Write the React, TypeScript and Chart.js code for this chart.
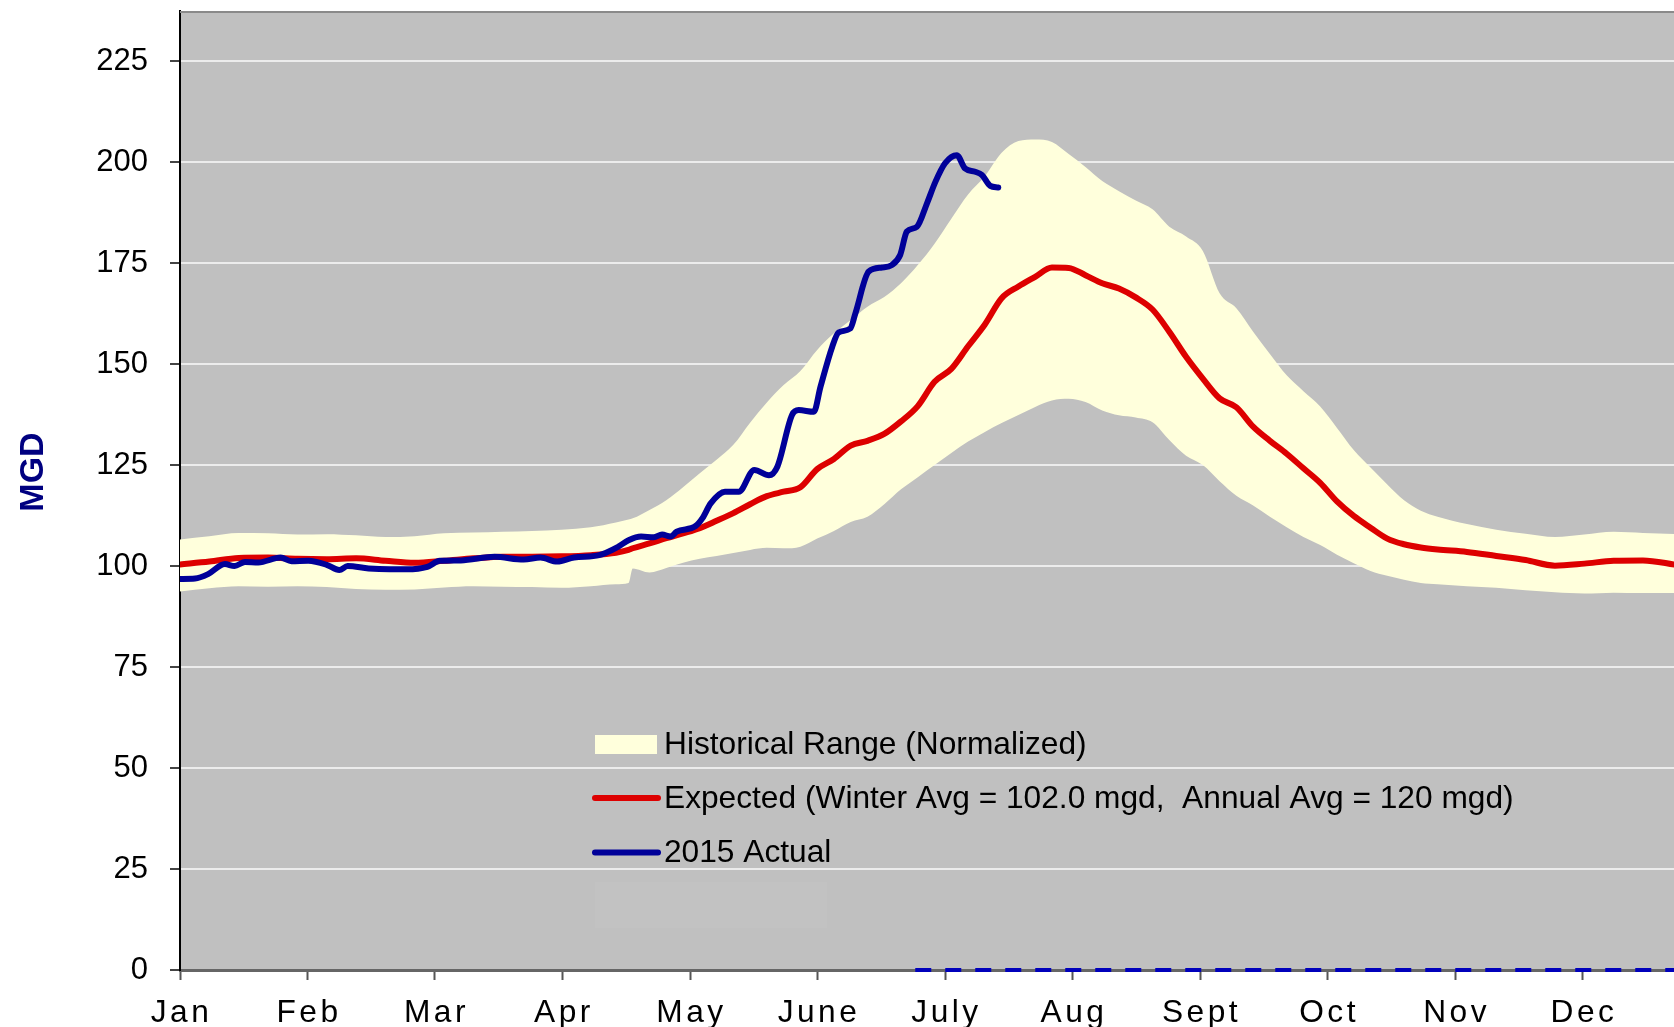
import React, { useEffect, useRef } from "react";
import { Chart, registerables } from "chart.js";

Chart.register(...registerables);

const FONT = "'Liberation Sans', Arial, sans-serif";

const MONTH_LABELS = ["Jan", "Feb", "Mar", "Apr", "May", "June", "July", "Aug", "Sept", "Oct", "Nov", "Dec"];
const MONTH_TICKS = [0, 30.42, 60.83, 91.25, 121.67, 152.08, 182.5, 212.92, 243.33, 273.75, 304.17, 334.58];
const Y_TICKS = [0, 25, 50, 75, 100, 125, 150, 175, 200, 225];

const BAND_DAYS = [
  0, 7, 14, 21, 28, 35, 42, 49, 56, 63, 70, 77, 84, 91, 98,
  104, 107, 108,
  112, 116, 120, 124, 128, 132, 136, 140, 144, 148,
  152, 156, 160, 164, 168, 172, 176, 180, 184, 188,
  192, 196, 200, 204, 208, 212, 216, 220, 224, 228,
  232, 236, 240, 244, 248, 252, 256, 260, 264, 268,
  272, 276, 280, 284, 288, 292, 296, 300,
  307, 314, 321, 328, 335, 342, 349, 357,
];

const BAND_HIGH = [
  106.6, 107.4, 108.2, 108.1, 107.8, 107.9, 107.6, 107.2, 107.4, 108.1, 108.3, 108.5, 108.7, 109.0, 109.6,
  110.8, 111.5, 111.8,
  113.9, 116.3, 119.5, 123.0, 126.3, 130.0, 135.5, 140.5, 144.8, 148.3,
  153.5, 157.6, 160.9, 164.2, 166.6, 170.0, 174.5, 179.8, 186.0, 192.0,
  196.5, 202.3, 205.2, 205.6, 205.0, 202.0, 198.8, 195.3, 192.8, 190.5,
  188.3, 184.0, 181.6, 178.0, 167.5, 163.8, 158.0, 152.5, 147.2, 143.3,
  139.5, 134.2, 128.7, 124.4, 120.2, 116.3, 113.7, 112.2,
  110.4, 109.0, 108.0, 107.2, 107.8, 108.5, 108.2, 107.9,
];

const BAND_LOW = [
  93.7, 94.5, 95.0, 94.9, 95.0, 94.8, 94.3, 94.1, 94.2, 94.7, 95.0, 94.9, 94.8, 94.6, 95.0,
  95.5, 95.8, 99.4,
  98.4, 99.5, 100.8, 101.8, 102.5, 103.2, 104.0, 104.5, 104.4, 104.8,
  106.8, 108.7, 110.9, 112.2, 115.3, 119.0, 122.0, 125.0, 128.0, 130.8,
  133.2, 135.4, 137.4, 139.4, 141.0, 141.4, 140.6, 138.5, 137.3, 136.8,
  135.6, 131.2, 127.3, 125.0, 121.0, 117.4, 115.0, 112.2, 109.6, 107.2,
  105.2, 102.8, 100.7, 98.8, 97.6, 96.6, 95.8, 95.5,
  95.0, 94.6, 94.0, 93.5, 93.2, 93.4, 93.3, 93.3,
];

const EXPECTED = [
  100.4, 101.1, 102.0, 102.1, 101.8, 101.7, 101.9, 101.3, 100.8, 101.3, 101.9, 102.3, 102.3, 102.4, 102.7,
  103.3, 104.0, 104.4,
  105.6, 106.9, 108.1, 109.4, 111.2, 113.1, 115.3, 117.3, 118.4, 119.5,
  124.0, 126.5, 129.8, 131.0, 132.7, 135.8, 139.6, 145.6, 148.8, 154.4,
  159.8, 166.3, 169.2, 171.6, 173.9, 173.8, 172.0, 170.0, 168.7, 166.5,
  163.5, 158.0, 151.8, 146.4, 141.5, 139.3, 134.5, 131.0, 127.8, 124.2,
  120.6, 116.0, 112.4, 109.5, 106.8, 105.4, 104.6, 104.1,
  103.5, 102.5, 101.5, 100.1, 100.6, 101.3, 101.4, 100.3,
];

const ACTUAL_DAYS = [
  0, 3.6, 6.7, 10.7, 13, 15.5, 18.7, 24, 26.6, 30.6, 35, 38, 40, 45, 50, 54, 59, 62, 67, 75,
  82, 86, 90, 94, 100, 104.4, 107, 110, 113, 115, 117, 118.5, 123, 124.6, 126.6, 130, 133.3,
  137, 140.5, 142.5, 146, 147.6, 151.2, 152.8, 155.6, 157.1, 159.9, 161.1, 164.3, 167.5,
  169.8, 171.8, 173.4, 175.8, 178.2, 180.2, 182.5, 185.3, 187.3, 189.7, 191.3, 193.3, 195.2,
];

const ACTUAL = [
  96.8, 96.9, 98.0, 100.5, 100.0, 101.0, 100.9, 102.1, 101.2, 101.3, 100.3, 99.0, 100.0, 99.4, 99.2, 99.2, 99.8, 101.3, 101.4, 102.3,
  101.6, 102.1, 101.1, 102.1, 102.7, 104.7, 106.4, 107.3, 107.1, 107.8, 107.3, 108.5, 109.9, 111.8, 115.5, 118.4, 118.4,
  123.8, 122.5, 124.6, 137.4, 138.6, 138.2, 144.4, 154.3, 157.8, 158.8, 162.5, 172.9, 173.9,
  174.5, 177.0, 182.8, 184.0, 189.8, 195.1, 199.7, 201.7, 198.4, 197.6, 196.8, 194.1, 193.7,
];

const FUTURE_DAYS = [175.4, 357];
const FUTURE = [0, 0];

const LEGEND_LABELS = [
  "Historical Range (Normalized)",
  "Expected (Winter Avg = 102.0 mgd,  Annual Avg = 120 mgd)",
  "2015 Actual",
];

const BAND_COLOR = "#ffffdc";
const RED = "#dd0000";
const BLUE = "#000099";

const pts = (xs: number[], ys: number[]) => xs.map((x, i) => ({ x, y: ys[i] }));

const decorPlugin = {
  id: "decor",
  beforeDraw(chart: any) {
    const { ctx, chartArea: a } = chart;
    ctx.save();
    ctx.fillStyle = "#c0c0c0";
    ctx.fillRect(a.left, a.top, a.right - a.left, a.bottom - a.top);
    ctx.restore();
  },
  afterDraw(chart: any) {
    const { ctx, chartArea: a, scales } = chart;
    ctx.save();
    // top border
    ctx.strokeStyle = "#8a8a8a";
    ctx.lineWidth = 2;
    ctx.beginPath();
    ctx.moveTo(a.left, a.top + 1);
    ctx.lineTo(a.right, a.top + 1);
    ctx.stroke();

    // month labels
    ctx.fillStyle = "#000";
    ctx.font = `31.7px ${FONT}`;
    ctx.textAlign = "center";
    ctx.textBaseline = "alphabetic";
    (ctx as any).letterSpacing = "3.5px";
    MONTH_TICKS.forEach((d, i) => {
      ctx.fillText(MONTH_LABELS[i], scales.x.getPixelForValue(d) + 1.5, a.bottom + 52);
    });
    (ctx as any).letterSpacing = "0px";

    // y axis title
    ctx.save();
    ctx.translate(43, 472);
    ctx.rotate(-Math.PI / 2);
    ctx.font = `bold 34px ${FONT}`;
    ctx.fillStyle = "#000080";
    ctx.textAlign = "center";
    ctx.textBaseline = "alphabetic";
    ctx.fillText("MGD", 0, 0);
    ctx.restore();

    // faint box below legend
    ctx.fillStyle = "rgba(255,255,255,0.035)";
    ctx.fillRect(595, 882, 232, 46);

    // legend
    ctx.fillStyle = BAND_COLOR;
    ctx.fillRect(595, 735, 62, 19);
    ctx.lineCap = "round";
    ctx.lineWidth = 6;
    ctx.strokeStyle = RED;
    ctx.beginPath();
    ctx.moveTo(595, 798);
    ctx.lineTo(658, 798);
    ctx.stroke();
    ctx.strokeStyle = BLUE;
    ctx.beginPath();
    ctx.moveTo(595, 852.5);
    ctx.lineTo(658, 852.5);
    ctx.stroke();

    ctx.fillStyle = "#000";
    ctx.font = `31.7px ${FONT}`;
    ctx.textAlign = "left";
    ctx.textBaseline = "alphabetic";
    const baselines = [754, 808, 862];
    LEGEND_LABELS.forEach((t, i) => ctx.fillText(t, 664, baselines[i]));
    ctx.restore();
  },
};

export default function App() {
  const ref = useRef<HTMLCanvasElement | null>(null);

  useEffect(() => {
    if (!ref.current) return;
    Chart.defaults.font.family = FONT;
    const chart = new Chart(ref.current, {
      type: "line",
      data: {
        datasets: [
          {
            label: "2015 Actual",
            data: pts(ACTUAL_DAYS, ACTUAL),
            borderColor: BLUE,
            borderWidth: 6,
            pointRadius: 0,
            cubicInterpolationMode: "monotone",
            borderCapStyle: "round",
            borderJoinStyle: "round",
            fill: false,
          },
          {
            label: "2015 Future",
            data: pts(FUTURE_DAYS, FUTURE),
            borderColor: "#0000bb",
            borderWidth: 4,
            borderDash: [16, 14],
            pointRadius: 0,
            clip: false,
            fill: false,
          },
          {
            label: "Expected",
            data: pts(BAND_DAYS, EXPECTED),
            borderColor: RED,
            borderWidth: 6,
            pointRadius: 0,
            cubicInterpolationMode: "monotone",
            borderCapStyle: "round",
            borderJoinStyle: "round",
            fill: false,
          },
          {
            label: "Historical High",
            data: pts(BAND_DAYS, BAND_HIGH),
            borderColor: "rgba(0,0,0,0)",
            borderWidth: 0,
            pointRadius: 0,
            cubicInterpolationMode: "monotone",
            backgroundColor: BAND_COLOR,
            fill: "+1",
          },
          {
            label: "Historical Low",
            data: pts(BAND_DAYS, BAND_LOW),
            borderColor: "rgba(0,0,0,0)",
            borderWidth: 0,
            pointRadius: 0,
            cubicInterpolationMode: "monotone",
            fill: false,
          },
        ],
      },
      options: {
        responsive: false,
        animation: false,
        devicePixelRatio: 1,
        layout: { padding: { top: 11, left: 0, right: 0, bottom: 0 } },
        plugins: {
          legend: { display: false },
          tooltip: { enabled: false },
          title: { display: false },
        },
        scales: {
          x: {
            type: "linear",
            min: 0,
            max: 356.4,
            afterBuildTicks: (s: any) => {
              s.ticks = MONTH_TICKS.map((v) => ({ value: v }));
            },
            afterFit: (s: any) => {
              s.height = 57;
              s.paddingLeft = 0;
              s.paddingRight = 0;
            },
            ticks: { display: false },
            grid: {
              drawOnChartArea: false,
              drawTicks: true,
              tickLength: 10,
              tickColor: "#555",
              tickWidth: 2,
            },
            border: { color: "#666", width: 3 },
          },
          y: {
            type: "linear",
            min: 0,
            max: 237.4,
            afterBuildTicks: (s: any) => {
              s.ticks = Y_TICKS.map((v) => ({ value: v }));
            },
            afterFit: (s: any) => {
              s.width = 180;
              s.paddingTop = 0;
              s.paddingBottom = 0;
            },
            ticks: {
              color: "#000",
              font: { size: 31, family: FONT },
              padding: 22,
              autoSkip: false,
              callback: (v: any) => String(v),
            },
            grid: {
              color: "#ececec",
              lineWidth: 2,
              tickColor: "#444",
              tickWidth: 2,
              tickLength: 10,
            },
            border: { color: "#000", width: 2 },
          },
        },
      },
      plugins: [decorPlugin],
    } as any);
    return () => chart.destroy();
  }, []);

  return (
    <div style={{ position: "fixed", left: 0, top: 0, width: 1674, height: 1027, background: "#fff" }}>
      <canvas ref={ref} width={1674} height={1027} style={{ display: "block" }} />
    </div>
  );
}
